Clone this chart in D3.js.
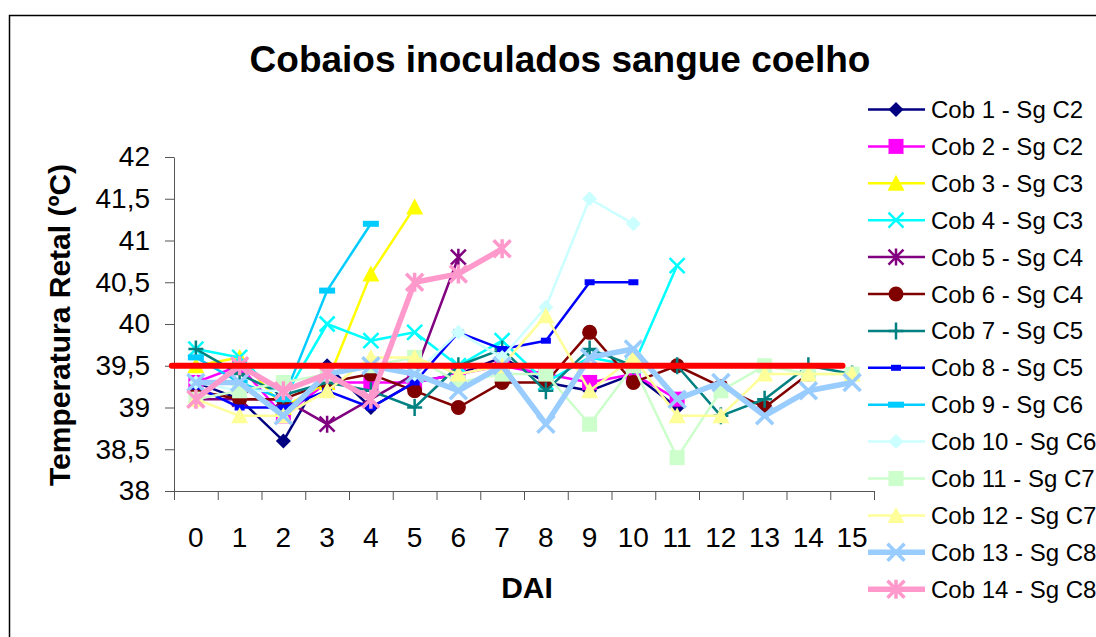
<!DOCTYPE html>
<html lang="pt">
<head>
  <meta charset="UTF-8">
  <title>Cobaios inoculados sangue coelho</title>
  <script src="https://d3js.org/d3.v7.min.js" charset="utf-8"></script>
  <style>
    body { margin: 0; background: #fff; }
    svg { display: block; font-family: "Liberation Sans", Arial, sans-serif; }
  </style>
</head>
<body>
<script>
  // data (DAI = dias apos inoculacao)
  var days = [0, 1, 2, 3, 4, 5, 6, 7, 8, 9, 10, 11, 12, 13, 14, 15]
  var yTicks = [38, 38.5, 39, 39.5, 40, 40.5, 41, 41.5, 42]
  var refTemp = 39.5

  var cob1  = [39.3, 39.1, 38.6, 39.5, 39.0, 39.3, 39.4, 39.6, 39.3, 39.2, 39.4, 39.0]
  var cob2  = [39.3, 39.5, 38.9, 39.3, 39.3, 39.3, 39.4, 39.5, 39.4, 39.3, 39.4, 39.1]
  var cob3  = [39.5, 39.6, 39.0, 39.3, 40.6, 41.4]
  var cob4  = [39.7, 39.6, 39.1, 40.0, 39.8, 39.9, 39.5, 39.8, 39.3, 39.6, 39.5, 40.7]
  var cob5  = [39.1, 39.1, 39.1, 38.8, 39.1, 39.4, 40.8]
  var cob6  = [39.2, 39.1, 39.1, 39.3, 39.4, 39.2, 39.0, 39.3, 39.3, 39.9, 39.3, 39.5, 39.25, 39.0, 39.4]
  var cob7  = [39.7, 39.4, 39.15, 39.3, 39.2, 39.0, 39.5, 39.7, 39.2, 39.7, 39.5, 39.5, 38.9, 39.1, 39.5, 39.4]
  var cob8  = [39.25, 39.0, 39.0, 39.2, 39.0, 39.3, 39.9, 39.7, 39.8, 40.5, 40.5]
  var cob9  = [39.6, 39.3, 39.1, 40.4, 41.2]
  var cob10 = [39.3, 39.2, 39.2, 39.4, 39.5, 39.4, 39.9, 39.6, 40.2, 41.5, 41.2]
  var cob11 = [39.1, 39.2, 39.3, 39.4, 39.5, 39.6, 39.3, 39.4, 39.4, 38.8, 39.5, 38.4, 39.2, 39.5, 39.4, 39.4]
  var cob12 = [39.1, 38.9, 38.9, 39.2, 39.6, 39.6, 39.4, 39.5, 40.1, 39.2, 39.6, 38.9, 38.9, 39.4, 39.4, 39.4]
  var cob13 = [39.3, 39.3, 38.9, 39.4, 39.5, 39.4, 39.2, 39.5, 38.8, 39.6, 39.7, 39.1, 39.3, 38.9, 39.2, 39.3]
  var cob14 = [39.1, 39.5, 39.2, 39.4, 39.1, 40.5, 40.6, 40.9]

  var seriesNames = ['Cob 1 - Sg C2', 'Cob 2 - Sg C2', 'Cob 3 - Sg C3', 'Cob 4 - Sg C3',
    'Cob 5 - Sg C4', 'Cob 6 - Sg C4', 'Cob 7 - Sg C5', 'Cob 8 - Sg C5', 'Cob 9 - Sg C6',
    'Cob 10 - Sg C6', 'Cob 11 - Sg C7', 'Cob 12 - Sg C7', 'Cob 13 - Sg C8', 'Cob 14 - Sg C8']
  var seriesValues = [cob1, cob2, cob3, cob4, cob5, cob6, cob7, cob8, cob9, cob10, cob11, cob12, cob13, cob14]

  // styles
  var colors = ['#000080', '#ff00ff', '#ffff00', '#00ffff', '#800080', '#800000', '#008080',
    '#0000ff', '#00ccff', '#ccffff', '#ccffcc', '#ffff99', '#99ccff', '#ff99cc']
  var markers = ['diamond', 'square', 'triangle', 'x', 'star', 'circle', 'plus',
    'smallbar', 'bar', 'diamond', 'square', 'triangle', 'x', 'star']
  var widths = [2.5, 2.5, 2.5, 2.5, 2.5, 2.5, 2.5, 2.5, 2.5, 2.5, 2.5, 2.5, 5.5, 5.5]

  var W = 1096, H = 637
  var svg = d3.select('body').append('svg').attr('width', W).attr('height', H)

  svg.append('rect').attr('x', 9.5).attr('y', 15.5).attr('width', 1200).attr('height', 800)
    .attr('fill', '#fff').attr('stroke', '#000').attr('stroke-width', 1.5)

  var x = d3.scaleLinear().domain([-0.5, 15.5]).range([174, 874])
  var y = d3.scaleLinear().domain([38, 42]).range([491, 157])

  // title
  svg.append('text').attr('x', 560).attr('y', 72).attr('text-anchor', 'middle')
    .attr('font-size', 37).attr('font-weight', 'bold').text('Cobaios inoculados sangue coelho')

  // y axis
  var yAxis = svg.append('g').attr('transform', 'translate(174,0)')
    .call(d3.axisLeft(y).tickValues(yTicks).tickSize(9).tickSizeOuter(0).tickPadding(15)
      .tickFormat(function(d) { return String(d).replace('.', ',') }))
  yAxis.selectAll('text').attr('font-size', 28).attr('fill', '#000')
    .attr('font-family', '"Liberation Sans", Arial, sans-serif')
  yAxis.selectAll('line,path').attr('stroke', '#555')

  // x axis: ticks at category boundaries, labels centred
  var bounds = days.concat([16]).map(function(d) { return d - 0.5 })
  var xAxis = svg.append('g').attr('transform', 'translate(0,491)')
    .call(d3.axisBottom(x).tickValues(bounds).tickSize(9).tickSizeOuter(0).tickFormat(''))
  xAxis.selectAll('line,path').attr('stroke', '#555')
  svg.append('g').selectAll('text').data(days).join('text')
    .attr('x', function(d) { return x(d) }).attr('y', 547)
    .attr('text-anchor', 'middle').attr('font-size', 28).text(function(d) { return d })

  svg.append('text').attr('transform', 'translate(70,325) rotate(-90)')
    .attr('text-anchor', 'middle').attr('font-size', 30).attr('font-weight', 'bold')
    .text('Temperatura Retal (ºC)')
  svg.append('text').attr('x', 527).attr('y', 598).attr('text-anchor', 'middle')
    .attr('font-size', 30).attr('font-weight', 'bold').text('DAI')

  function drawMarker(g, type, color, big) {
    var s = big ? 8.5 : 7.5
    if (type === 'circle') {
      g.append('circle').attr('r', s).attr('fill', color)
    } else if (type === 'diamond') {
      g.append('path').attr('d', 'M0,' + (-s) + 'L' + s + ',0L0,' + s + 'L' + (-s) + ',0Z').attr('fill', color)
    } else if (type === 'square') {
      g.append('rect').attr('x', -s).attr('y', -s).attr('width', 2 * s).attr('height', 2 * s).attr('fill', color)
    } else if (type === 'triangle') {
      g.append('path').attr('d', 'M0,' + (-s - 1) + 'L' + (s + 1) + ',' + s + 'L' + (-s - 1) + ',' + s + 'Z').attr('fill', color)
    } else if (type === 'smallbar') {
      g.append('rect').attr('x', -5).attr('y', -3).attr('width', 10).attr('height', 6).attr('fill', color)
    } else if (type === 'bar') {
      g.append('rect').attr('x', -8).attr('y', -3).attr('width', 16).attr('height', 6).attr('fill', color)
    } else {
      var d = ''
      if (type === 'x' || type === 'star') {
        d += 'M' + (-s) + ',' + (-s) + 'L' + s + ',' + s + 'M' + (-s) + ',' + s + 'L' + s + ',' + (-s)
      }
      if (type === 'star' || type === 'plus') d += 'M0,' + (-s - 1) + 'V' + (s + 1)
      if (type === 'plus') d += 'M' + (-s) + ',0H' + s
      g.append('path').attr('d', d).attr('fill', 'none').attr('stroke', color)
        .attr('stroke-width', big ? 3.5 : 2.5)
    }
  }

  var line = d3.line()
    .x(function(d, i) { return x(i) })
    .y(function(d) { return y(d) })

  var plot = svg.append('g')
  seriesValues.forEach(function(vals, k) {
    var big = k >= 12
    plot.append('path').attr('d', line(vals)).attr('fill', 'none')
      .attr('stroke', colors[k]).attr('stroke-width', widths[k]).attr('stroke-linejoin', 'round')
    vals.forEach(function(v, i) {
      var g = plot.append('g').attr('transform', 'translate(' + x(i) + ',' + y(v) + ')')
      drawMarker(g, markers[k], colors[k], big)
    })
  })

  // reference line at 39,5 ºC
  svg.append('line').attr('x1', x(-0.55)).attr('x2', x(14.78))
    .attr('y1', y(refTemp)).attr('y2', y(refTemp))
    .attr('stroke', '#ff0000').attr('stroke-width', 6).attr('stroke-linecap', 'round')

  // legend
  var legend = svg.append('g').attr('transform', 'translate(868,0)')
  seriesNames.forEach(function(name, k) {
    var row = legend.append('g').attr('transform', 'translate(0,' + (109.5 + k * 36.9) + ')')
    row.append('line').attr('x1', 0).attr('x2', 57).attr('stroke', colors[k]).attr('stroke-width', widths[k])
    drawMarker(row.append('g').attr('transform', 'translate(28,0)'), markers[k], colors[k], k >= 12)
    row.append('text').attr('x', 63).attr('y', 8.5).attr('font-size', 24).text(name)
  })
</script>
</body>
</html>
